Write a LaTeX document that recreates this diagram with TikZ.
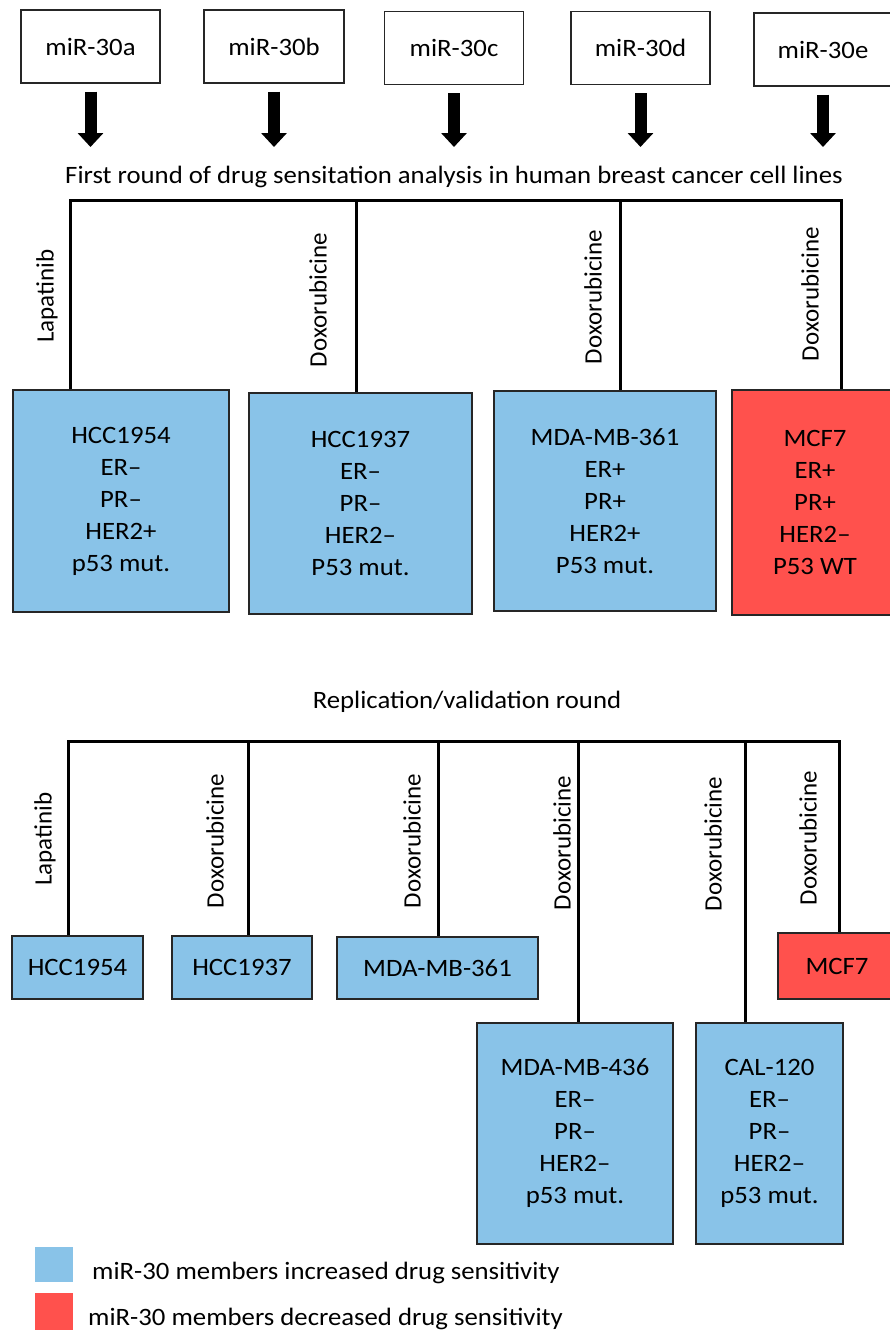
\documentclass[tikz,border=0pt]{standalone}
\usepackage{fontspec}
\setmainfont{Carlito}[FakeStretch=1.07]
\newfontfamily\drugfont{Carlito}
\usetikzlibrary{arrows.meta}
\definecolor{sensblue}{RGB}{137,195,232}
\definecolor{sensred}{RGB}{255,81,77}

\begin{document}
\begin{tikzpicture}[x=1pt,y=-1pt,
    font=\fontsize{25}{32}\selectfont,
    mirbox/.style={draw=black!85,line width=1.2pt,minimum width=139pt,minimum height=73pt,inner sep=0pt},
    cellbox/.style={draw=black!85,line width=1.2pt,fill=sensblue,align=center,inner sep=0pt},
    downbox/.style={cellbox,fill=sensred},
    fatarrow/.style={line width=12pt,-{Triangle[width=25pt,length=14pt]}},
    branch/.style={line width=3pt},
    drug/.style={rotate=90,inner sep=0pt,font=\drugfont\fontsize{25}{32}\selectfont}]
\useasboundingbox (0,0) rectangle (889,1330);

% miR-30 family
\node[mirbox] (m1) at (90.5,46.5) {miR-30a};
\node[mirbox,minimum width=140pt] (m2) at (274,46.5) {miR-30b};
\node[mirbox] (m3) at (454,48) {miR-30c};
\node[mirbox] (m4) at (640.5,48) {miR-30d};
\node[mirbox,minimum width=138pt] (m5) at (823,49.5) {miR-30e};
\coordinate (tip) at (0,147);
\draw[fatarrow] ([yshift=-8pt]m1.south) -- (m1.south |- tip);
\draw[fatarrow] ([yshift=-8pt]m2.south) -- (m2.south |- tip);
\draw[fatarrow] ([yshift=-8pt]m3.south) -- (m3.south |- tip);
\draw[fatarrow] ([yshift=-8pt]m4.south) -- (m4.south |- tip);
\draw[fatarrow] ([yshift=-8pt]m5.south) -- (m5.south |- tip);

% first round
\node (round1) at (454,177) {First round of drug sensitation analysis in human breast cancer cell lines};
\coordinate (r1) at (70,200);
\coordinate (r2) at (356,200);
\coordinate (r3) at (620,200);
\coordinate (r4) at (841,200);
\node[cellbox,minimum width=216pt,minimum height=222pt] (c1) at (121,501) {HCC1954\\ER--\\PR--\\HER2+\\p53 mut.};
\node[cellbox,minimum width=223pt,minimum height=221pt] (c2) at (360.5,503.5) {HCC1937\\ER--\\PR--\\HER2--\\P53 mut.};
\node[cellbox,minimum width=222pt,minimum height=220pt] (c3) at (605,501) {MDA-MB-361\\ER+\\PR+\\HER2+\\P53 mut.};
\node[downbox,minimum width=166pt,minimum height=225pt] (c4) at (815,502.5) {MCF7\\ER+\\PR+\\HER2--\\P53 WT};
\draw[branch] (c1.north -| r1) -- (r1) -- (r4) -- (c4.north -| r4);
\draw[branch] (r2) -- (c2.north -| r2);
\draw[branch] (r3) -- (c3.north -| r3);
\node[drug] (d1) at (47,296) {Lapatinib};
\node[drug] (d2) at (318,300) {Doxorubicine};
\node[drug] (d3) at (593,297) {Doxorubicine};
\node[drug] (d4) at (810,294) {Doxorubicine};

% replication round
\node (round2) at (467,702) {Replication/validation round};
\coordinate (q1) at (68,741);
\coordinate (q2) at (248,741);
\coordinate (q3) at (438,741);
\coordinate (q4) at (578,741);
\coordinate (q5) at (745,741);
\coordinate (q6) at (839,741);
\node[cellbox,minimum width=131pt,minimum height=63pt] (v1) at (77.5,967.5) {HCC1954};
\node[cellbox,minimum width=140pt,minimum height=63pt] (v2) at (242,967.5) {HCC1937};
\node[cellbox,minimum width=201pt,minimum height=62pt] (v3) at (437.5,968) {MDA-MB-361};
\node[cellbox,minimum width=196pt,minimum height=221pt] (v4) at (575,1133.5) {MDA-MB-436\\ER--\\PR--\\HER2--\\p53 mut.};
\node[cellbox,minimum width=147pt,minimum height=221pt] (v5) at (769.5,1133.5) {CAL-120\\ER--\\PR--\\HER2--\\p53 mut.};
\node[downbox,minimum width=118pt,minimum height=66pt] (v6) at (837,966) {MCF7};
\draw[branch] (v1.north -| q1) -- (q1) -- (q6) -- (v6.north -| q6);
\draw[branch] (q2) -- (v2.north -| q2);
\draw[branch] (q3) -- (v3.north -| q3);
\draw[branch] (q4) -- (v4.north -| q4);
\draw[branch] (q5) -- (v5.north -| q5);
\node[drug] (e1) at (45,839) {Lapatinib};
\node[drug] (e2) at (215,841) {Doxorubicine};
\node[drug] (e3) at (412,841) {Doxorubicine};
\node[drug] (e4) at (562,843) {Doxorubicine};
\node[drug] (e5) at (713,844) {Doxorubicine};
\node[drug] (e6) at (808,838) {Doxorubicine};

% legend
\node[fill=sensblue,minimum width=38pt,minimum height=35pt,inner sep=0pt] (kblue) at (54,1264.5) {};
\node[anchor=base west,inner sep=0pt] (kbluetext) at (92,1279) {miR-30 members increased drug sensitivity};
\node[fill=sensred,minimum width=38pt,minimum height=38pt,inner sep=0pt] (kred) at (54,1312) {};
\node[anchor=base west,inner sep=0pt] (kredtext) at (88,1325) {miR-30 members decreased drug sensitivity};
\end{tikzpicture}
\end{document}
